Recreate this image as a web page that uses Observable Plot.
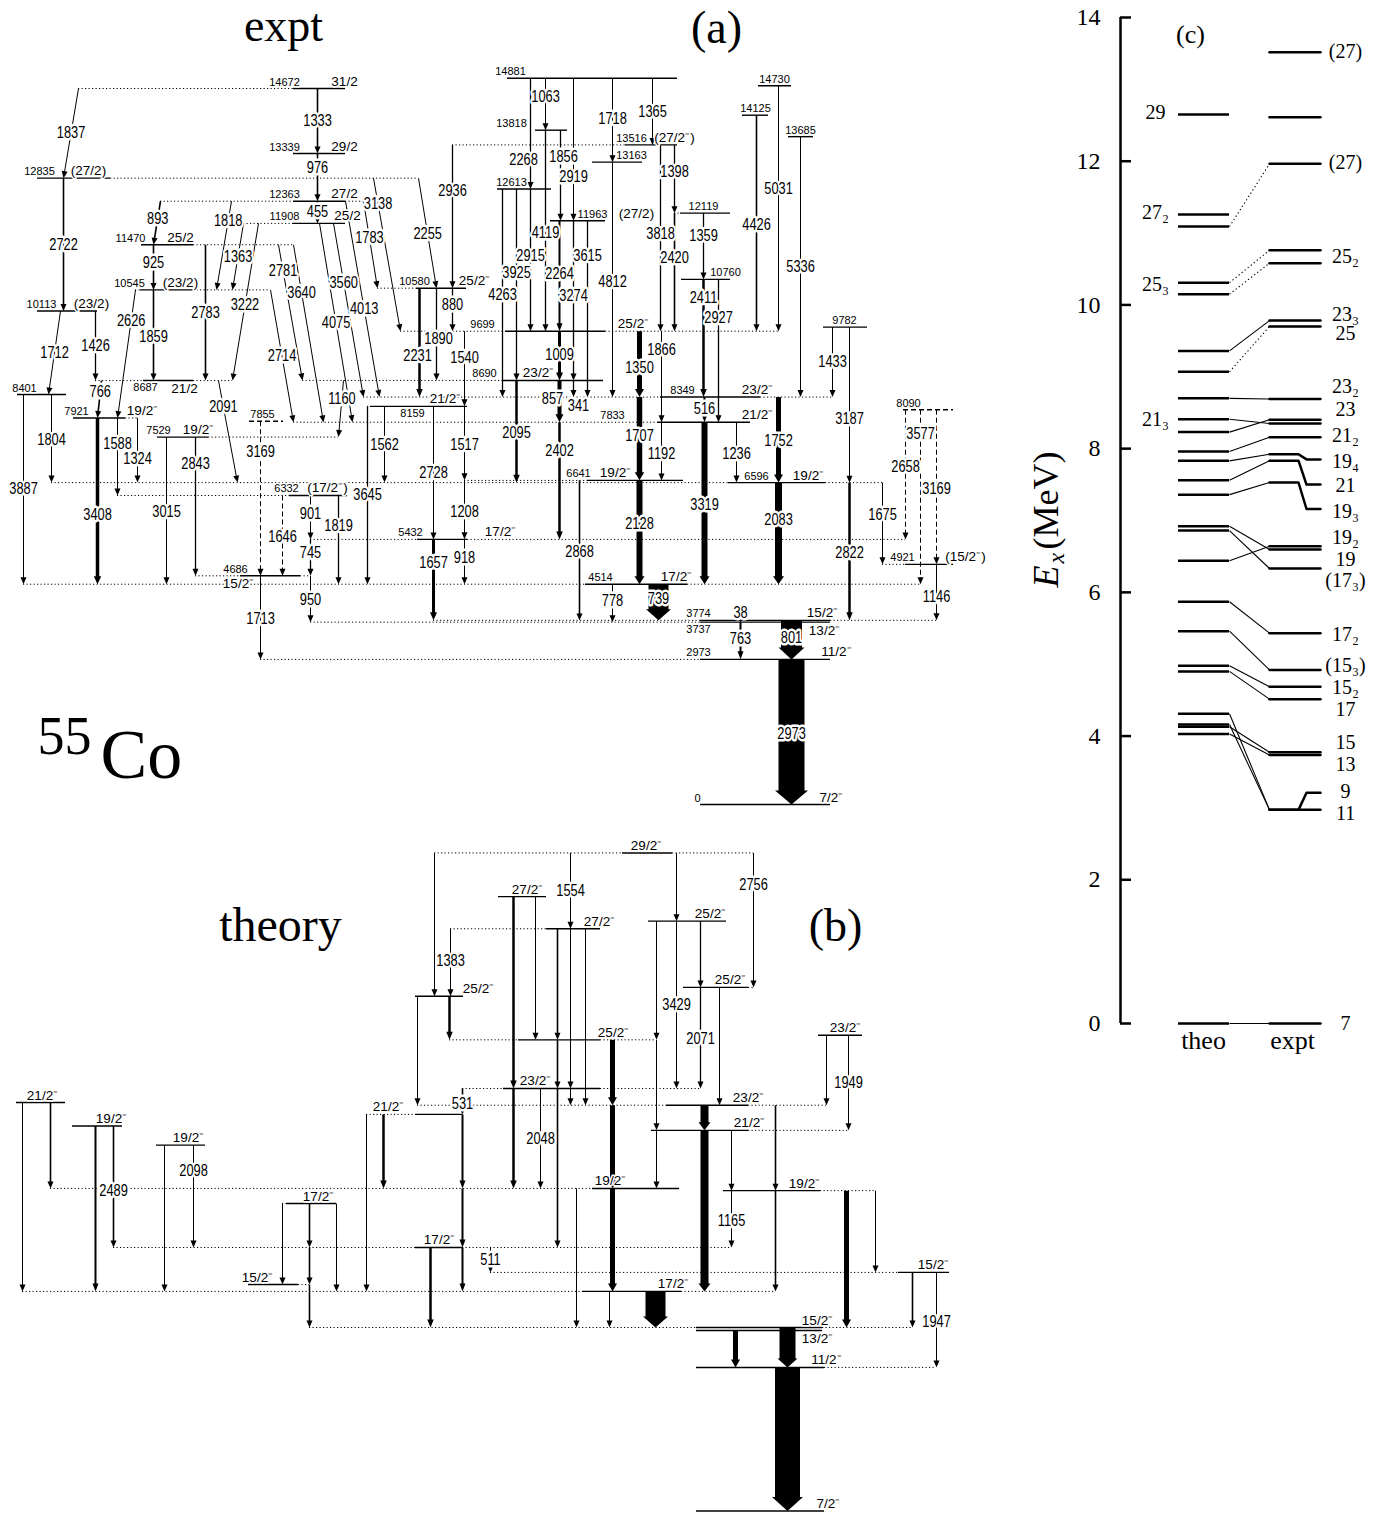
<!DOCTYPE html>
<html lang="en">
<head>
<meta charset="utf-8">
<title>55Co level schemes</title>
<script src="https://cdn.jsdelivr.net/npm/d3@7"></script>
<script src="https://cdn.jsdelivr.net/npm/@observablehq/plot@0.6"></script>
<style>
  html, body { margin: 0; background: #fff; }
  #figure { position: relative; width: 1382px; height: 1514px; background: #fff; overflow: hidden; }
  #figure > svg { position: absolute; }
</style>
</head>
<body>
<div id="figure"></div>
<script>
// ---------------------------------------------------------------------------
// (a) experimental levels: energy (keV), line from x1 to x2, energy-label x,
//     spin, spin-label x, flags (B both labels under the line, E energy label
//     under, S spin label under, d tentative level drawn dashed)
const exptLevels = [
  [14881, 507, 677, 510, "", 0, ""],
  [14730, 758, 791, 774, "", 0, ""],
  [14672, 293, 345, 284, "31/2", 344, ""],
  [14125, 742, 768, 755, "", 0, ""],
  [13818, 535, 567, 511, "", 0, ""],
  [13685, 788, 813, 800, "", 0, ""],
  [13516, 625, 677, 631, "(27/2⁻)", 674, ""],
  [13339, 293, 345, 284, "29/2", 344, ""],
  [13163, 592, 642, 631, "", 0, ""],
  [12835, 37, 110, 39, "(27/2)", 88, ""],
  [12613, 497, 551, 511, "", 0, ""],
  [12363, 293, 345, 284, "27/2", 344, ""],
  [12119, 680, 730, 703, "", 0, ""],
  [11963, 550, 605, 592, "(27/2)", 636, ""],
  [11908, 293, 345, 284, "25/2", 347, ""],
  [11470, 141, 193, 130, "25/2", 180, ""],
  [10760, 681, 730, 725, "", 0, ""],
  [10580, 416, 466, 414, "25/2⁻", 474, ""],
  [10545, 140, 193, 129, "(23/2)", 180, ""],
  [10113, 37, 97, 41, "(23/2)", 91, ""],
  [9782, 823, 867, 844, "", 0, ""],
  [9699, 505, 605, 482, "25/2⁻", 633, ""],
  [8690, 503, 603, 484, "23/2⁻", 538, ""],
  [8687, 143, 193, 145, "21/2", 184, "B"],
  [8401, 17, 66, 24, "", 0, ""],
  [8349, 660, 760, 682, "23/2⁻", 757, ""],
  [8159, 370, 467, 412, "21/2⁻", 445, "E"],
  [8090, 903, 953, 908, "", 0, "d"],
  [7921, 73, 125, 76, "19/2⁻", 142, ""],
  [7855, 249, 283, 262, "", 0, "d"],
  [7833, 657, 750, 612, "21/2⁻", 757, ""],
  [7529, 157, 208, 158, "19/2⁻", 198, ""],
  [6641, 587, 683, 578, "19/2⁻", 615, ""],
  [6596, 728, 825, 756, "19/2⁻", 808, ""],
  [6332, 289, 347, 286, "(17/2⁻)", 327, ""],
  [5432, 417, 467, 410, "17/2⁻", 500, ""],
  [4921, 905, 953, 902, "(15/2⁻)", 965, ""],
  [4686, 240, 300, 235, "15/2⁻", 238, "S"],
  [4514, 585, 687, 600, "17/2⁻", 676, ""],
  [3774, 700, 830, 698, "15/2⁻", 822, ""],
  [3737, 700, 830, 698, "13/2⁻", 824, "B"],
  [2973, 700, 830, 698, "11/2⁻", 836, ""],
  [0, 700, 830, 697, "7/2⁻", 831, ""]
];

// (a) gamma rays: initial level, final level, E_gamma (keV), x at the top,
//     x at the arrow, line width, label position along the line, dashed,
//     sideways nudge of the label
const exptGammas = [
  [14672, 12835, 1837, 78, 63, 1, 0.5],
  [14672, 13339, 1333, 317, 317, 1.6, 0.5],
  [13339, 12363, 976, 317, 317, 1.6, 0.31],
  [12363, 11908, 455, 317, 317, 1.6, 0.5],
  [12835, 10113, 2722, 63, 63, 1.6, 0.5],
  [12835, 9699, 3138, 373, 400, 1, 0.17],
  [12835, 10580, 2255, 418, 436, 1, 0.51],
  [12363, 11470, 893, 160, 153, 1.6, 0.4],
  [12363, 10545, 1818, 231, 216, 1, 0.22],
  [12363, 10580, 1783, 363, 377, 1, 0.42],
  [12363, 8349, 4013, 345, 379, 1, 0.55],
  [11908, 10545, 1363, 243, 232, 1, 0.5],
  [11908, 8687, 3222, 258, 232, 1, 0.52],
  [11908, 8349, 3560, 333, 363, 1, 0.34],
  [11908, 7833, 4075, 319, 352, 1, 0.5],
  [11470, 10545, 925, 153, 153, 1.6, 0.4],
  [11470, 8687, 2783, 205, 205, 1.6, 0.5],
  [11470, 8690, 2781, 278, 302, 1, 0.19],
  [11470, 7833, 3640, 293, 323, 1, 0.27],
  [10545, 7833, 2714, 270, 293, 1, 0.5],
  [10545, 7921, 2626, 135, 117, 1, 0.24],
  [10545, 8687, 1859, 153, 153, 1.6, 0.52],
  [10113, 8687, 1426, 95, 95, 1.3, 0.5],
  [10113, 8401, 1712, 60, 48, 1, 0.5],
  [8687, 7921, 766, 101, 97, 1.6, 0.3],
  [8687, 6596, 2091, 218, 237, 1, 0.26],
  [8401, 6596, 1804, 51, 51, 1, 0.52],
  [8401, 4514, 3887, 23, 23, 1, 0.5],
  [7921, 4514, 3408, 97, 97, 3.5, 0.58],
  [7921, 6332, 1588, 117, 117, 1, 0.33],
  [7921, 6596, 1324, 137, 137, 1, 0.64],
  [7855, 4686, 3169, 260, 260, 1, 0.2, true],
  [7529, 4514, 3015, 166, 166, 1, 0.51],
  [7529, 4686, 2843, 195, 195, 1.3, 0.19],
  [6332, 5432, 901, 310, 310, 1, 0.41],
  [6332, 4686, 1646, 282, 282, 1, 0.51, true],
  [6332, 4514, 1819, 338, 338, 1.3, 0.34],
  [5432, 4686, 745, 310, 310, 1.3, 0.36],
  [4686, 3737, 950, 310, 310, 1, 0.51],
  [4686, 2973, 1713, 260, 260, 1, 0.51],
  [8690, 7529, 1160, 343, 338, 1, 0.32],
  [8159, 4514, 3645, 367, 367, 1.3, 0.5],
  [8159, 6596, 1562, 384, 384, 1, 0.51],
  [13516, 10580, 2936, 452, 452, 1.3, 0.32],
  [10580, 9699, 880, 452, 452, 1.3, 0.38],
  [10580, 8349, 2231, 419, 419, 2.5, 0.62, false, -2],
  [10580, 8690, 1890, 436, 436, 1.3, 0.55, false, 2],
  [9699, 8159, 1540, 464, 464, 1, 0.35],
  [8159, 6641, 1517, 464, 464, 1, 0.52],
  [8159, 5432, 2728, 433, 433, 1, 0.5],
  [6641, 5432, 1208, 464, 464, 1, 0.53],
  [5432, 3774, 1657, 433, 433, 3, 0.29],
  [5432, 4514, 918, 464, 464, 1, 0.42],
  [12613, 8349, 4263, 502, 502, 1.3, 0.51],
  [12613, 8690, 3925, 516, 516, 1.3, 0.44],
  [8690, 6596, 2095, 516, 516, 2.5, 0.51],
  [12613, 9699, 2915, 530, 530, 1.3, 0.47],
  [14881, 12613, 2268, 530, 530, 1.3, 0.74, false, -7],
  [14881, 13818, 1063, 545, 545, 1, 0.35],
  [13818, 9699, 4119, 545, 545, 1.3, 0.51],
  [13818, 11963, 1856, 560, 560, 1.3, 0.3, false, 3],
  [14881, 11963, 2919, 573, 573, 1, 0.69],
  [11963, 9699, 2264, 559, 559, 2, 0.48],
  [11963, 8690, 3274, 573, 573, 1.3, 0.47],
  [11963, 8349, 3615, 587, 587, 1.3, 0.2],
  [14881, 13163, 1718, 612, 612, 1, 0.48],
  [13163, 8349, 4812, 612, 612, 1, 0.51],
  [14881, 13516, 1365, 652, 652, 1, 0.51],
  [13516, 9699, 3818, 660, 660, 1.3, 0.48],
  [13516, 12119, 1398, 674, 674, 1.3, 0.39],
  [12119, 9699, 2420, 674, 674, 1.6, 0.38],
  [12119, 10760, 1359, 703, 703, 1.3, 0.34],
  [10760, 8349, 2411, 703, 703, 2.5, 0.16],
  [10760, 7833, 2927, 718, 718, 1.3, 0.27],
  [14125, 9699, 4426, 756, 756, 1.6, 0.51],
  [14730, 9699, 5031, 778, 778, 1, 0.42],
  [13685, 8349, 5336, 800, 800, 1, 0.5],
  [9782, 8349, 1433, 832, 832, 1, 0.5],
  [9782, 6596, 3187, 849, 849, 1, 0.59],
  [6596, 3774, 2822, 849, 849, 2.5, 0.51],
  [6596, 4921, 1675, 882, 882, 1, 0.4],
  [8090, 5432, 2658, 905, 905, 1, 0.44, true],
  [8090, 4514, 3577, 920, 920, 1, 0.14, true],
  [8090, 4921, 3169, 936, 936, 1, 0.51, true],
  [4921, 3774, 1146, 936, 936, 1, 0.59],
  [9699, 8690, 1009, 559, 559, 3, 0.49],
  [8690, 7833, 857, 559, 559, 4, 0.43, false, -7],
  [7833, 5432, 2402, 559, 559, 2.5, 0.24],
  [8690, 8349, 341, 573, 573, 1.3, 1.5, false, 5],
  [6641, 3774, 2868, 579, 579, 1.6, 0.51],
  [4514, 3737, 778, 612, 612, 1, 0.43],
  [4514, 3774, 739, 658, 658, 20, 0.4],
  [9699, 8349, 1350, 639, 639, 5, 0.56],
  [8349, 6641, 1707, 639, 639, 5.5, 0.46],
  [6641, 4514, 2128, 639, 639, 6, 0.42],
  [9699, 7833, 1866, 661, 661, 1, 0.2],
  [7833, 6641, 1192, 661, 661, 1, 0.54],
  [8349, 7833, 516, 704, 704, 2, 0.45],
  [7833, 4514, 3319, 704, 704, 6, 0.51],
  [7833, 6596, 1236, 736, 736, 1, 0.52],
  [8349, 6596, 1752, 778, 778, 5, 0.51],
  [6596, 4514, 2083, 778, 778, 7, 0.37],
  [3774, 3737, 38, 740, 740, 1, -4],
  [3737, 2973, 763, 740, 740, 2, 0.44],
  [3774, 2973, 801, 791, 791, 21, 0.44],
  [2973, 0, 2973, 791, 791, 26, 0.51]
];

// (b) shell-model levels: energy (keV), line from x1 to x2, spin, spin-label x, flags
const theoLevels = [
  [13485, 622, 672, "29/2⁻", 646, ""],
  [12590, 498, 546, "27/2⁻", 527, ""],
  [12087, 648, 726, "25/2⁻", 710, ""],
  [11931, 546, 600, "27/2⁻", 599, ""],
  [10729, 683, 748, "25/2⁻", 730, ""],
  [10548, 415, 463, "25/2⁻", 478, ""],
  [9749, 818, 862, "23/2⁻", 845, ""],
  [9655, 518, 600, "25/2⁻", 613, ""],
  [8658, 503, 600, "23/2⁻", 535, ""],
  [8370, 16, 65, "21/2⁻", 42, ""],
  [8315, 666, 748, "23/2⁻", 748, ""],
  [8127, 415, 462, "21/2⁻", 388, ""],
  [7889, 72, 122, "19/2⁻", 111, ""],
  [7800, 651, 748, "21/2⁻", 749, ""],
  [7498, 156, 205, "19/2⁻", 188, ""],
  [6610, 592, 679, "19/2⁻", 610, ""],
  [6565, 723, 820, "19/2⁻", 804, ""],
  [6300, 286, 336, "17/2⁻", 318, ""],
  [5400, 415, 462, "17/2⁻", 439, ""],
  [4889, 898, 949, "15/2⁻", 933, ""],
  [4640, 248, 298, "15/2⁻", 257, ""],
  [4500, 582, 681, "17/2⁻", 673, ""],
  [3760, 696, 822, "15/2⁻", 817, ""],
  [3700, 696, 822, "13/2⁻", 817, "S"],
  [2942, 696, 824, "11/2⁻", 826, ""],
  [0, 696, 824, "7/2⁻", 828, ""]
];

// (b) calculated transitions: initial, final, labelled E_gamma (or null), x at top, x at arrow, width, label position
const theoGammas = [
  [13485, 10548, null, 434, 434, 1],
  [13485, 11931, 1554, 570, 570, 1, 0.5],
  [13485, 12087, null, 676, 676, 1],
  [13485, 10729, 2756, 753, 753, 1, 0.24],
  [12590, 8658, null, 513, 513, 2.5],
  [8658, 6610, null, 513, 513, 2.5],
  [12590, 9655, null, 535, 535, 1],
  [11931, 9655, null, 557, 557, 1.6],
  [9655, 8658, null, 557, 557, 1.6],
  [8658, 5400, null, 557, 557, 1.6],
  [11931, 8658, null, 570, 570, 1],
  [8658, 8315, null, 570, 570, 1],
  [11931, 8315, null, 585, 585, 1],
  [11931, 10548, 1383, 450, 450, 1, 0.47],
  [12087, 9655, null, 656, 656, 1],
  [9655, 7800, null, 656, 656, 1],
  [7800, 6610, null, 656, 656, 1],
  [12087, 8658, 3429, 676, 676, 1, 0.5],
  [12087, 10729, null, 700, 700, 1.3],
  [10729, 8658, 2071, 700, 700, 1.3, 0.51],
  [10729, 8315, null, 719, 719, 1],
  [10548, 9655, null, 449, 449, 2.5],
  [10548, 8315, null, 417, 417, 1],
  [9655, 8315, null, 612, 612, 5],
  [8315, 6610, null, 612, 612, 5],
  [6610, 4500, null, 612, 612, 5],
  [9749, 8315, null, 826, 826, 1],
  [9749, 7800, 1949, 848, 848, 1, 0.5],
  [8658, 8127, 531, 462, 462, 1.6, 0.58],
  [8658, 6610, 2048, 540, 540, 1, 0.5],
  [8315, 7800, null, 704, 704, 8],
  [7800, 4500, null, 704, 704, 8],
  [8315, 6565, null, 775, 775, 1.6],
  [6565, 4500, null, 775, 775, 1.6],
  [7800, 6565, null, 731, 731, 1],
  [6565, 5400, 1165, 731, 731, 1, 0.54],
  [8127, 4500, null, 366, 366, 1],
  [8127, 6610, null, 383, 383, 2.5],
  [8127, 6610, null, 462, 462, 2],
  [6610, 5400, null, 462, 462, 2],
  [5400, 4500, null, 462, 462, 2],
  [8370, 4500, null, 22, 22, 1],
  [8370, 6610, null, 50, 50, 1.6],
  [7889, 4500, null, 95, 95, 2],
  [7889, 5400, 2489, 113, 113, 1.6, 0.53],
  [7498, 4500, null, 164, 164, 1],
  [7498, 5400, 2098, 193, 193, 1, 0.25],
  [6300, 4640, null, 282, 282, 1],
  [6300, 5400, null, 309, 309, 1.6],
  [5400, 4640, null, 309, 309, 1.6],
  [4640, 3760, null, 309, 309, 1.6],
  [6300, 4500, null, 336, 336, 1],
  [5400, 3760, null, 430, 430, 2.5],
  [5400, 4889, 511, 490, 490, 1, 0.5],
  [6610, 3760, null, 576, 576, 1],
  [4500, 3760, null, 609, 609, 1],
  [4500, 3760, null, 655, 655, 20],
  [6565, 3760, null, 846, 846, 5],
  [6565, 4889, null, 875, 875, 1],
  [4889, 3760, null, 912, 912, 1.6],
  [4889, 2942, 1947, 936, 936, 1, 0.52],
  [3700, 2942, null, 735, 735, 5],
  [3760, 2942, null, 787, 787, 16],
  [2942, 0, null, 787, 787, 25]
];

// (c) theory vs experiment (MeV)
const mevTicks = [0, 2, 4, 6, 8, 10, 12, 14];
const cTheo = [12.65, 11.26, 11.09, 10.31, 10.15, 9.36, 9.07, 8.70, 8.41, 8.23, 7.96, 7.83,
               7.56, 7.36, 6.92, 6.86, 6.44, 5.87, 5.46, 4.98, 4.90, 4.31, 4.16, 4.13, 4.03, 0];
const cTheoLabels = [["29", 12.68], ["27₂", 11.29], ["25₃", 10.28], ["21₃", 8.41]];
// experimental level and, where the label needs room, the height of its label stub
const cExpt = [[13.516], [12.613], [11.963], [10.760], [10.580], [9.782], [9.699], [8.690],
               [8.401], [8.349], [8.159], [7.921, 7.85], [7.833, 7.50], [7.529, 7.16], [6.641],
               [6.596], [6.332], [5.432], [4.921], [4.686], [4.514], [3.774], [3.737], [2.973],
               [2.973, 3.21], [0]];
const cExptLabels = [["(27)", 13.53], ["(27)", 11.98], ["25₂", 10.67], ["23₃", 9.87], ["25", 9.60],
                     ["23₂", 8.86], ["23", 8.54], ["21₂", 8.18], ["19₄", 7.82], ["21", 7.49],
                     ["19₃", 7.12], ["19₂", 6.76], ["19", 6.46], ["(17₃)", 6.16], ["17₂", 5.41],
                     ["(15₃)", 4.98], ["15₂", 4.68], ["17", 4.37], ["15", 3.91], ["13", 3.60],
                     ["9", 3.23], ["11", 2.92], ["7", 0]];
// theory level -> experimental level, tentative assignments dotted
const cLinks = [[0, 0], [4.31, 2.973], [4.16, 2.973], [4.13, 3.774], [4.03, 3.737], [4.90, 4.514],
                [4.98, 4.686], [5.46, 4.921], [5.87, 5.432], [6.86, 6.332], [6.92, 6.596],
                [6.44, 6.641], [7.36, 7.529], [7.56, 7.833], [7.83, 7.921], [7.96, 8.159],
                [8.23, 8.401], [8.41, 8.349], [8.70, 8.690], [9.36, 9.782], [9.07, 9.699, true],
                [10.15, 10.580, true], [10.31, 10.760, true], [11.09, 11.963, true]];

// ---------------------------------------------------------------------------
const PX_PER_KEV = 0.0488;
const GAMMA_FONT = 16;
const SANS = '"Liberation Sans Narrow","Arial Narrow","Liberation Sans",sans-serif';
const SERIF = '"Liberation Serif","Times New Roman",serif';
const halo = {fill: "black", stroke: "white", paintOrder: "stroke", strokeLinejoin: "round"};

// filled arrowhead with its tip at the origin, pointing down
function headSymbol(w, h) {
  return {draw(ctx) { ctx.moveTo(0, 0); ctx.lineTo(-w / 2, -h); ctx.lineTo(w / 2, -h); ctx.closePath(); }};
}

function schemeMarks(levels, gammas) {
  // how far each level line has to reach to meet its transitions
  const reach = new Map(levels.map(l => [l.E, [l.x1, l.x2]]));
  for (const g of gammas) {
    for (const [E, x] of [[g.Ei, g.x0], [g.Ef, g.x1]]) {
      const r = reach.get(E);
      if (r) { r[0] = Math.min(r[0], x); r[1] = Math.max(r[1], x); }
    }
  }
  const ext = [];
  for (const l of levels) {
    const [a, b] = reach.get(l.E);
    if (a < l.x1) ext.push({E: l.E, xa: a, xb: l.x1, dashed: l.dashed});
    if (b > l.x2) ext.push({E: l.E, xa: l.x2, xb: b, dashed: l.dashed});
  }
  const segs = gammas.map(g => {
    const Eend = g.label != null ? g.Ei - g.label : g.Ef;
    const dxp = g.x1 - g.x0, dyp = (g.Ei - Eend) * PX_PER_KEV;
    const len = Math.max(1e-6, Math.hypot(dxp, dyp));
    const big = g.w >= 10;
    const hw = big ? Math.round(g.w * 1.25) : Math.max(6, g.w + 4);
    const hh = big ? Math.round(g.w * 0.55) : (g.w > 1.7 ? 8 : 7);
    const back = Math.min(hh * 0.85, len);
    return {
      ...g, Eend, hw, hh,
      xs: g.x1 - dxp / len * back,
      Es: Eend + (dyp / len * back) / PX_PER_KEV,
      rot: -Math.atan2(dxp, dyp) * 180 / Math.PI,
      lx: g.x0 + dxp * g.t + g.ldx,
      lE: g.Ei - (g.Ei - Eend) * g.t
    };
  });
  const heads = d3.groups(segs, d => `${d.hw}x${d.hh}`).map(([, grp]) =>
    Plot.dot(grp, {x: "x1", y: "Eend", rotate: "rot", r: 1, symbol: headSymbol(grp[0].hw, grp[0].hh), fill: "black", stroke: "none"}));
  const lvlText = {fontFamily: SANS, ...halo, strokeWidth: 3};
  return [
    Plot.ruleY(ext.filter(e => !e.dashed), {y: "E", x1: "xa", x2: "xb", strokeWidth: 1, strokeDasharray: "1.2,2.3"}),
    Plot.ruleY(ext.filter(e => e.dashed), {y: "E", x1: "xa", x2: "xb", strokeWidth: 1, strokeDasharray: "5,3"}),
    Plot.ruleY(levels.filter(l => !l.dashed), {y: "E", x1: "x1", x2: "x2", strokeWidth: 1.4}),
    Plot.ruleY(levels.filter(l => l.dashed), {y: "E", x1: "x1", x2: "x2", strokeWidth: 1.4, strokeDasharray: "5,3"}),
    Plot.link(segs.filter(s => !s.dashed), {x1: "x0", y1: "Ei", x2: "xs", y2: "Es", strokeWidth: "w", stroke: "black"}),
    Plot.link(segs.filter(s => s.dashed), {x1: "x0", y1: "Ei", x2: "xs", y2: "Es", strokeWidth: "w", stroke: "black", strokeDasharray: "5,3"}),
    ...heads,
    Plot.text(segs.filter(s => s.label != null), {x: "lx", y: "lE", text: d => `${d.label}`, fontSize: GAMMA_FONT, fontFamily: SANS, ...halo, strokeWidth: 5}),
    Plot.text(levels.filter(l => l.elx != null && !l.eBelow), {x: "elx", y: "E", text: d => `${d.E}`, fontSize: 11, dy: -3, lineAnchor: "bottom", ...lvlText}),
    Plot.text(levels.filter(l => l.elx != null && l.eBelow), {x: "elx", y: "E", text: d => `${d.E}`, fontSize: 11, dy: 3, lineAnchor: "top", ...lvlText}),
    Plot.text(levels.filter(l => l.spin && !l.sBelow), {x: "sx", y: "E", text: "spin", fontSize: 13.5, dy: -3, lineAnchor: "bottom", ...lvlText}),
    Plot.text(levels.filter(l => l.spin && l.sBelow), {x: "sx", y: "E", text: "spin", fontSize: 13.5, dy: 3, lineAnchor: "top", ...lvlText})
  ];
}

function schemePlot({levels, gammas, width, height, zeroY, maxE, extra}) {
  return Plot.plot({
    width, height, margin: 0,
    style: {overflow: "visible", background: "transparent"},
    x: {domain: [0, width], range: [0, width], axis: null},
    y: {domain: [0, maxE], range: [zeroY, zeroY - maxE * PX_PER_KEV], axis: null},
    marks: [...schemeMarks(levels, gammas), ...extra]
  });
}

const toGamma = ([Ei, Ef, label, x0, x1, w, t = 0.5, dashed = false, ldx = 0]) => ({Ei, Ef, label, x0, x1, w, t, dashed, ldx});
const title = (text, dx, dy, size, extra = {}) =>
  Plot.text([text], {frameAnchor: "top-left", dx, dy, textAnchor: "middle", lineAnchor: "bottom", fontSize: size, fontFamily: SERIF, fill: "black", ...extra});

const figure = document.getElementById("figure");
function place(svg, left, top) {
  svg.style.left = `${left}px`;
  svg.style.top = `${top}px`;
  figure.appendChild(svg);
  // gamma-ray energies are set in a condensed sans face
  for (const t of svg.querySelectorAll("text")) {
    const g = t.parentNode;
    if (!g || !g.getAttribute || g.getAttribute("font-size") !== `${GAMMA_FONT}`) continue;
    const w = t.getComputedTextLength();
    if (w > 0) {
      t.setAttribute("textLength", (w * 0.8).toFixed(1));
      t.setAttribute("lengthAdjust", "spacingAndGlyphs");
    }
  }
}

// (a) experiment
place(schemePlot({
  levels: exptLevels.map(([E, x1, x2, elx, spin, sx, f]) => ({
    E, x1, x2, elx, spin, sx,
    eBelow: f.includes("B") || f.includes("E"),
    sBelow: f.includes("B") || f.includes("S"),
    dashed: f.includes("d")
  })),
  gammas: exptGammas.map(toGamma),
  width: 1000, height: 830, zeroY: 804, maxE: 15000,
  extra: [
    title("expt", 283, 40, 46),
    title("(a)", 716, 42, 46),
    title("55", 64, 753, 54),
    title("Co", 100, 777, 70, {textAnchor: "start"})
  ]
}), 0, 0);

// (b) theory
place(schemePlot({
  levels: theoLevels.map(([E, x1, x2, spin, sx, f]) => ({
    E, x1, x2, elx: null, spin, sx, eBelow: false, sBelow: f.includes("S"), dashed: false
  })),
  gammas: theoGammas.map(toGamma),
  width: 1000, height: 684, zeroY: 680.5, maxE: 14000,
  extra: [
    title("theory", 280, 110, 48),
    title("(b)", 835, 110, 46)
  ]
}), 0, 830);

// (c) level-by-level comparison
const COL = {axis: 120, theo: [178, 229], expt: [269, 320], kink: [298, 306], theoLab: 155, exptLab: 345};
const exptPts = cExpt.flatMap(([E, stub], i) => stub == null
  ? [{i, x: COL.expt[0], E}, {i, x: COL.expt[1], E}]
  : [{i, x: COL.expt[0], E}, {i, x: COL.kink[0], E}, {i, x: COL.kink[1], E: stub}, {i, x: COL.expt[1], E: stub}]);
const cText = {fontFamily: SERIF, fill: "black"};

place(Plot.plot({
  width: 382, height: 1100,
  marginLeft: 120, marginRight: 0, marginTop: 17, marginBottom: 77,
  style: {overflow: "visible", background: "transparent"},
  x: {domain: [120, 382], axis: null},
  y: {domain: [0, 14]},
  marks: [
    Plot.axisY({ticks: mevTicks, tickSize: 0, tickPadding: 20, fontSize: 24, fontFamily: SERIF, label: null, tickFormat: d => `${d}`}),
    Plot.ruleX([COL.axis], {y1: 0, y2: 14, strokeWidth: 2.5}),
    Plot.ruleY(mevTicks, {x1: COL.axis, x2: COL.axis + 11, strokeWidth: 2.5}),
    Plot.ruleY(cTheo, {x1: COL.theo[0], x2: COL.theo[1], strokeWidth: 2.5}),
    Plot.line(exptPts, {x: "x", y: "E", z: "i", strokeWidth: 2.5}),
    Plot.link(cLinks.filter(d => !d[2]), {x1: COL.theo[1], y1: d => d[0], x2: COL.expt[0], y2: d => d[1], strokeWidth: 1.1}),
    Plot.link(cLinks.filter(d => d[2]), {x1: COL.theo[1], y1: d => d[0], x2: COL.expt[0], y2: d => d[1], strokeWidth: 1.1, strokeDasharray: "1.3,2.6"}),
    Plot.text(cTheoLabels, {x: COL.theoLab, y: d => d[1], text: d => d[0], fontSize: 20, ...cText}),
    Plot.text(cExptLabels, {x: COL.exptLab, y: d => d[1], text: d => d[0], fontSize: 20, ...cText}),
    Plot.text([["theo", 203], ["expt", 292]], {x: d => d[1], y: 0, dy: 25, text: d => d[0], lineAnchor: "bottom", fontSize: 26, ...cText}),
    Plot.text(["(c)"], {frameAnchor: "top-left", dx: 70, dy: 25, textAnchor: "middle", lineAnchor: "bottom", fontSize: 26, ...cText}),
    Plot.text(["E"], {frameAnchor: "left", dx: -63, dy: 67, rotate: -90, textAnchor: "start", lineAnchor: "bottom", fontSize: 36, fontStyle: "italic", ...cText}),
    Plot.text(["x"], {frameAnchor: "left", dx: -57, dy: 43, rotate: -90, textAnchor: "start", lineAnchor: "bottom", fontSize: 24, fontStyle: "italic", ...cText}),
    Plot.text(["(MeV)"], {frameAnchor: "left", dx: -63, dy: 29, rotate: -90, textAnchor: "start", lineAnchor: "bottom", fontSize: 36, ...cText})
  ]
}), 1000, 0);
</script>
</body>
</html>
